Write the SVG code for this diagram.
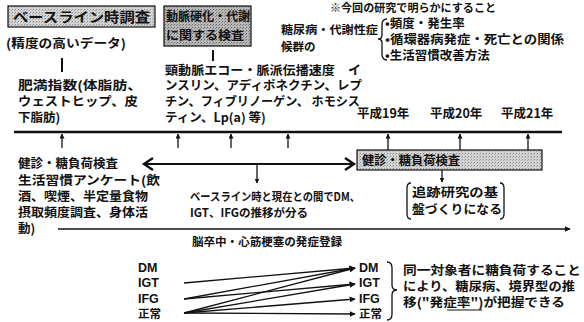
<svg xmlns="http://www.w3.org/2000/svg" width="584" height="322" viewBox="0 0 584 322">
<defs>
  <pattern id="stip" width="3" height="3" patternUnits="userSpaceOnUse">
    <rect width="3" height="3" fill="#d4d4d4"/>
    <rect x="0" y="0" width="1" height="1" fill="#888"/>
    <rect x="2" y="1" width="1" height="1" fill="#aaa"/>
  </pattern>
  <pattern id="stip2" width="3" height="3" patternUnits="userSpaceOnUse">
    <rect width="3" height="3" fill="#b8b8b8"/>
    <rect x="0" y="0" width="1" height="1" fill="#666"/>
    <rect x="2" y="1" width="1" height="1" fill="#888"/>
  </pattern>
  <marker id="ah" viewBox="0 0 10 10" refX="9" refY="5" markerWidth="6" markerHeight="6" orient="auto" markerUnits="userSpaceOnUse">
    <path d="M0,0 L10,5 L0,10 z" fill="#111"/>
  </marker>
  <marker id="ahs" viewBox="0 0 10 10" refX="9" refY="5" markerWidth="5" markerHeight="5" orient="auto" markerUnits="userSpaceOnUse">
    <path d="M0,0 L10,5 L0,10 z" fill="#111"/>
  </marker>
</defs>
<style>
  text { font-family: "Noto Sans CJK JP", "Noto Sans", sans-serif; font-weight: bold; fill: #111; }
  .t13 { font-size: 12.5px; }
  .t12 { font-size: 11.5px; }
  .t11 { font-size: 11px; }
  .t14 { font-size: 13.5px; }
  .lat { font-family: "Liberation Sans", Arial, sans-serif; font-weight: bold; font-size: 12.5px; }
  .ln { stroke: #111; fill: none; }
  .box { stroke: #111; stroke-width: 1.2; }
</style>
<rect width="584" height="322" fill="#fff"/>

<g id="baseline-box">
  <rect class="box" x="8" y="6" width="147" height="21" fill="url(#stip)"/>
  <text class="t14" x="13" y="21.5" textLength="137" lengthAdjust="spacingAndGlyphs">ベースライン時調査</text>
</g>
<g id="baseline-sub">
  <text class="t13" x="6" y="48" textLength="120" lengthAdjust="spacingAndGlyphs">(精度の高いデータ)</text>
</g>
<g id="exam-box">
  <rect class="box" x="164" y="6" width="87" height="40" fill="url(#stip2)"/>
  <text class="t13" x="166" y="21" textLength="84" lengthAdjust="spacingAndGlyphs">動脈硬化・代謝</text>
  <text class="t13" x="166" y="40" textLength="78" lengthAdjust="spacingAndGlyphs">に関する検査</text>
</g>

<g id="aims">
  <text class="t11" x="330" y="12" textLength="166" lengthAdjust="spacingAndGlyphs">※今回の研究で明らかにすること</text>
  <text class="t12" x="281" y="34" textLength="97" lengthAdjust="spacingAndGlyphs">糖尿病・代謝性症</text>
  <text class="t12" x="281" y="51">候群の</text>
  <path class="ln" stroke-width="1.3" d="M387,19 Q382,19 382,25 L382,35 Q382,39 378,39 Q382,39 382,43 L382,54 Q382,60 387,60"/>
  <text class="t13" x="385" y="28">•頻度・発生率</text>
  <text class="t13" x="385" y="44" textLength="179" lengthAdjust="spacingAndGlyphs">•循環器病発症・死亡との関係</text>
  <text class="t13" x="385" y="60">•生活習慣改善方法</text>
</g>

<g id="obesity">
  <text class="t13" x="18" y="90" textLength="124" lengthAdjust="spacingAndGlyphs">肥満指数(体脂肪、</text>
  <text class="t13" x="18" y="106" textLength="120" lengthAdjust="spacingAndGlyphs">ウェストヒップ、皮</text>
  <text class="t13" x="18" y="122">下脂肪)</text>
</g>
<g id="vascular">
  <text class="t13" x="165" y="75" textLength="196" lengthAdjust="spacingAndGlyphs">頸動脈エコー・脈派伝播速度　イ</text>
  <text class="t13" x="165" y="90" textLength="197" lengthAdjust="spacingAndGlyphs">ンスリン、アディポネクチン、レプ</text>
  <text class="t13" x="165" y="106" textLength="195" lengthAdjust="spacingAndGlyphs">チン、フィブリノーゲン、 ホモシス</text>
  <text class="t13" x="165" y="122">ティン、Lp(a) 等)</text>
</g>
<g id="years">
  <text class="t13" x="357" y="118">平成19年</text>
  <text class="t13" x="430" y="118">平成20年</text>
  <text class="t13" x="501" y="118">平成21年</text>
</g>

<g id="checkup-left">
  <text class="t13" x="18" y="168">健診・糖負荷検査</text>
  <text class="t13" x="18" y="185" textLength="142" lengthAdjust="spacingAndGlyphs">生活習慣アンケート(飲</text>
  <text class="t13" x="18" y="201" textLength="130" lengthAdjust="spacingAndGlyphs">酒、喫煙、半定量食物</text>
  <text class="t13" x="18" y="217" textLength="130" lengthAdjust="spacingAndGlyphs">摂取頻度調査、身体活</text>
  <text class="t13" x="18" y="233">動)</text>
</g>
<g id="transition-note">
  <text class="t12" x="190" y="201" textLength="170" lengthAdjust="spacingAndGlyphs">ベースライン時と現在との間でDM、</text>
  <text class="t12" x="190" y="217">IGT、IFGの推移が分る</text>
</g>
<g id="checkup-box">
  <rect class="box" x="357" y="150" width="185" height="20" fill="url(#stip)"/>
  <text class="t13" x="362" y="165" textLength="98" lengthAdjust="spacingAndGlyphs">健診・糖負荷検査</text>
</g>
<g id="followup">
  <path class="ln" stroke-width="1.3" d="M411,183 Q407,183 407,188 L407,214 Q407,219 411,219"/>
  <path class="ln" stroke-width="1.3" d="M500,183 Q504,183 504,188 L504,214 Q504,219 500,219"/>
  <text class="t13" x="412" y="197" textLength="86" lengthAdjust="spacingAndGlyphs">追跡研究の基</text>
  <text class="t13" x="412" y="214" textLength="90" lengthAdjust="spacingAndGlyphs">盤づくりになる</text>
</g>
<g id="registry">
  <text class="t12" x="192" y="246" textLength="150" lengthAdjust="spacingAndGlyphs">脳卒中・心筋梗塞の発症登録</text>
</g>

<g id="from-states">
  <text class="lat" x="138" y="272">DM</text>
  <text class="lat" x="138" y="287">IGT</text>
  <text class="lat" x="138" y="303">IFG</text>
  <text class="t12" x="138" y="318">正常</text>
</g>
<g id="to-states">
  <text class="lat" x="359" y="272">DM</text>
  <text class="lat" x="359" y="287">IGT</text>
  <text class="lat" x="359" y="303">IFG</text>
  <text class="t12" x="359" y="318">正常</text>
</g>
<g id="note-right">
  <path class="ln" stroke-width="1.3" d="M387,262 Q392,262 392,268 L392,285 Q392,290 397,290 Q392,290 392,295 L392,314 Q392,320 387,320"/>
  <text class="t13" x="403" y="275" textLength="178" lengthAdjust="spacingAndGlyphs">同一対象者に糖負荷すること</text>
  <text class="t13" x="403" y="291" textLength="172" lengthAdjust="spacingAndGlyphs">により、糖尿病、境界型の推</text>
  <text class="t13" x="403" y="307" textLength="162" lengthAdjust="spacingAndGlyphs">移("発症率")が把握できる</text>
  <line class="ln" x1="447" y1="310" x2="482" y2="310" stroke-width="1"/>
</g>

<g id="connectors">
  <line class="ln" x1="62" y1="58" x2="62" y2="72" stroke-width="2"/>
  <line class="ln" x1="213" y1="50" x2="213" y2="61" stroke-width="2"/>
  <line class="ln" x1="14" y1="132" x2="562" y2="132" stroke-width="2.6"/>
  <line class="ln" x1="62" y1="148" x2="62" y2="134" stroke-width="1.3" marker-end="url(#ahs)"/>
  <line class="ln" x1="178" y1="148" x2="178" y2="134" stroke-width="1.3" marker-end="url(#ahs)"/>
  <line class="ln" x1="231" y1="148" x2="231" y2="134" stroke-width="1.3" marker-end="url(#ahs)"/>
  <line class="ln" x1="288" y1="148" x2="288" y2="134" stroke-width="1.3" marker-end="url(#ahs)"/>
  <line class="ln" x1="388" y1="150" x2="388" y2="134" stroke-width="1.3" marker-end="url(#ahs)"/>
  <line class="ln" x1="460" y1="150" x2="460" y2="134" stroke-width="1.3" marker-end="url(#ahs)"/>
  <line class="ln" x1="528" y1="150" x2="528" y2="134" stroke-width="1.3" marker-end="url(#ahs)"/>
  <line class="ln" x1="144" y1="164" x2="354" y2="164" stroke-width="2"/>
  <path class="ln" stroke-width="2.4" d="M153,158 L144,164 L153,170"/>
  <path class="ln" stroke-width="2.4" d="M345,158 L354,164 L345,170"/>
  <line class="ln" x1="257" y1="164" x2="257" y2="183" stroke-width="1.3" marker-end="url(#ahs)"/>
  <line class="ln" x1="442" y1="170" x2="442" y2="182" stroke-width="1.3" marker-end="url(#ahs)"/>
  <line class="ln" x1="58" y1="229" x2="570" y2="229" stroke-width="1.4" stroke="#333" marker-end="url(#ah)"/>
  <line class="ln" x1="184" y1="283" x2="355" y2="268" stroke-width="1.3" marker-end="url(#ah)"/>
  <line class="ln" x1="184" y1="299" x2="355" y2="268" stroke-width="1.3" marker-end="url(#ah)"/>
  <line class="ln" x1="184" y1="299" x2="355" y2="284" stroke-width="1.3" marker-end="url(#ah)"/>
  <line class="ln" x1="184" y1="313" x2="355" y2="268" stroke-width="1.3" marker-end="url(#ah)"/>
  <line class="ln" x1="184" y1="313" x2="355" y2="284" stroke-width="1.3" marker-end="url(#ah)"/>
  <line class="ln" x1="184" y1="313" x2="355" y2="299" stroke-width="1.3" marker-end="url(#ah)"/>
  <line class="ln" x1="184" y1="313" x2="355" y2="314" stroke-width="1.3" marker-end="url(#ah)"/>
</g>
</svg>
